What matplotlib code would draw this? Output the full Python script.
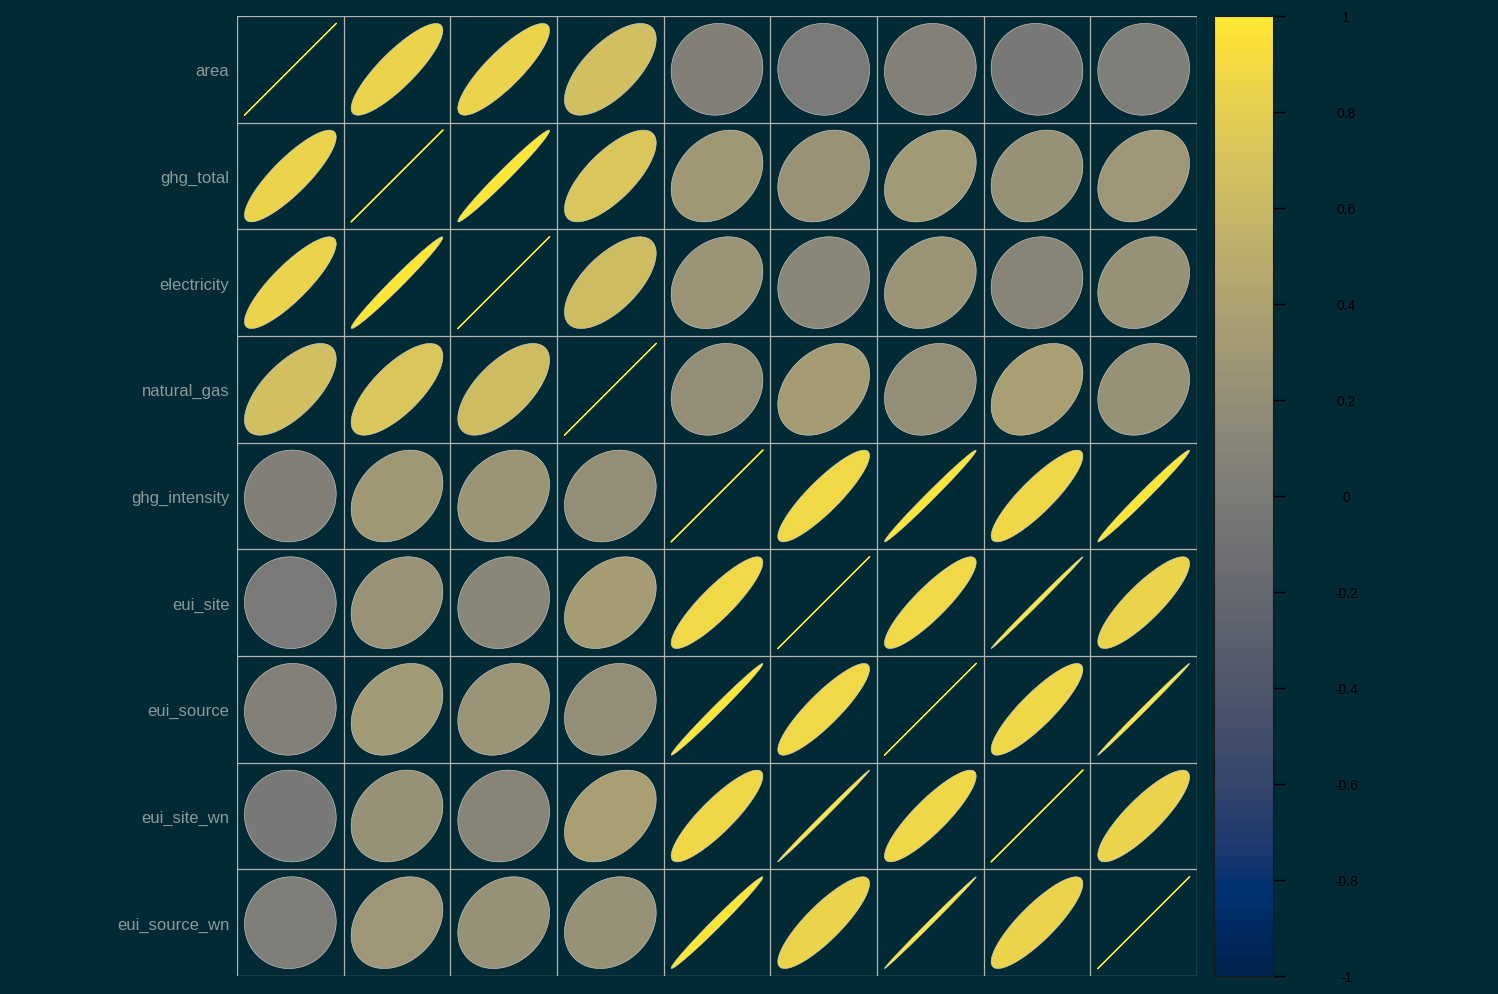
import numpy as np
import matplotlib
matplotlib.use("Agg")
import matplotlib.pyplot as plt
from matplotlib.patches import Polygon

# variables and correlation matrix
variables = ["area", "ghg_total", "electricity", "natural_gas", "ghg_intensity",
             "eui_site", "eui_source", "eui_site_wn", "eui_source_wn"]

corr = [
    [1.00, 0.85, 0.85, 0.66, 0.04, -0.01, 0.05, -0.03, 0.03],
    [0.85, 1.00, 0.985, 0.72, 0.29, 0.24, 0.31, 0.22, 0.28],
    [0.85, 0.985, 1.00, 0.64, 0.25, 0.12, 0.25, 0.10, 0.22],
    [0.66, 0.72, 0.64, 1.00, 0.20, 0.33, 0.20, 0.36, 0.22],
    [0.04, 0.29, 0.25, 0.20, 1.00, 0.88, 0.992, 0.87, 0.99],
    [-0.01, 0.24, 0.12, 0.33, 0.88, 1.00, 0.88, 0.998, 0.85],
    [0.05, 0.31, 0.25, 0.20, 0.992, 0.88, 1.00, 0.87, 0.998],
    [-0.03, 0.22, 0.10, 0.36, 0.87, 0.998, 0.87, 1.00, 0.85],
    [0.03, 0.28, 0.22, 0.22, 0.99, 0.85, 0.998, 0.85, 1.00],
]

cbar_ticks = [1, 0.8, 0.6, 0.4, 0.2, 0, -0.2, -0.4, -0.6, -0.8, -1]

bg = "#012a35"
cmap = plt.get_cmap("cividis")
n = len(variables)

fig = plt.figure(figsize=(14.98, 9.95), dpi=100, facecolor=bg)
ax = fig.add_axes([237 / 1498, 18 / 995, 960 / 1498, 960 / 995])
ax.set_facecolor(bg)
ax.set_xlim(0, n)
ax.set_ylim(n, 0)

# ellipse shape as in corrplot: x = cos(t + d/2), y = cos(t - d/2)
t = np.linspace(0, 2 * np.pi, 200)
size = 0.86
for i in range(n):
    for j in range(n):
        r = corr[i][j]
        d = np.arccos(np.clip(r, -1, 1))
        ex = np.cos(t + d / 2) / 2 * size + j + 0.5
        ey = -np.cos(t - d / 2) / 2 * size + i + 0.5
        col = cmap((r + 1) / 2)
        if i == j:
            ax.plot(ex, ey, color=col, lw=0.9)
        else:
            ax.add_patch(Polygon(np.column_stack([ex, ey]), closed=True,
                                 facecolor=col, edgecolor="#d6d6d0", lw=0.4))

for k in range(n + 1):
    ax.axhline(k, color="#b4b4b4", lw=0.9)
    ax.axvline(k, color="#b4b4b4", lw=0.9)

ax.set_xticks([])
ax.set_yticks(np.arange(n) + 0.5)
ax.set_yticklabels(variables, fontsize=12, color="#8a9a9a", family="Liberation Sans")
ax.tick_params(axis="y", length=0, pad=5.5)
for s in ax.spines.values():
    s.set_visible(False)

# colour bar
cax = fig.add_axes([1214 / 1498, 18 / 995, 59 / 1498, 960 / 995])
grad = np.linspace(-1, 1, 200).reshape(-1, 1)
cax.imshow(grad, cmap=cmap, aspect="auto", origin="lower", extent=[0, 1, -1, 1])
cax.set_xticks([])
cax.yaxis.tick_right()
cax.set_yticks(cbar_ticks)
cax.set_yticklabels([f"{v:g}" for v in cbar_ticks], fontsize=10, color="black",
                    family="Liberation Sans", ha="center")
cax.tick_params(axis="y", length=8.6, width=1, color="black", pad=44)
for s in cax.spines.values():
    s.set_color("#1a1a1a")
    s.set_linewidth(0.8)

fig.savefig("out.png", dpi=100, facecolor=bg)
